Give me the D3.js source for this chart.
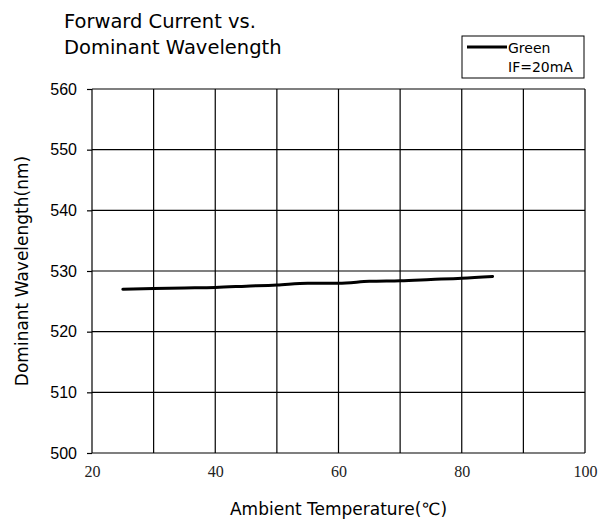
<!DOCTYPE html>
<html lang="en">
<head>
  <meta charset="UTF-8">
  <title>Forward Current vs. Dominant Wavelength</title>
  <style>
    body { margin: 0; background: #fff; }
    svg { display: block; }
  </style>
</head>
<body>
  <script src="https://cdn.jsdelivr.net/npm/d3@7"></script>
  <script>
// data
const temps = [25, 30, 35, 40, 45, 50, 55, 60, 65, 70, 75, 80, 85];
const wavelength = [527.0, 527.1, 527.2, 527.3, 527.5, 527.7, 528.0, 528.0, 528.3, 528.4, 528.6, 528.8, 529.1];
const xTicks = [20, 40, 60, 80, 100];
const yTicks = [500, 510, 520, 530, 540, 550, 560];

const width = 605, height = 522;
const margin = { top: 89, right: 20, bottom: 69, left: 92 };
const innerWidth = width - margin.left - margin.right;
const innerHeight = height - margin.top - margin.bottom;

const svg = d3.select('body').append('svg')
  .attr('width', width)
  .attr('height', height);

const g = svg.append('g')
  .attr('transform', `translate(${margin.left}, ${margin.top})`);

const xScale = d3.scaleLinear().domain([20, 100]).range([0, innerWidth]);
const yScale = d3.scaleLinear().domain([500, 560]).range([innerHeight, 0]);

// grid
g.append('g')
  .selectAll('line')
  .data(d3.range(20, 101, 10))
  .join('line')
  .attr('x1', d => xScale(d)).attr('x2', d => xScale(d))
  .attr('y1', 0).attr('y2', innerHeight)
  .attr('stroke', '#000').attr('stroke-width', 1.2);

g.append('g')
  .selectAll('line')
  .data(yTicks)
  .join('line')
  .attr('x1', 0).attr('x2', innerWidth)
  .attr('y1', d => yScale(d)).attr('y2', d => yScale(d))
  .attr('stroke', '#000').attr('stroke-width', 1.2);

// y axis
const yAxis = d3.axisLeft(yScale).tickValues(yTicks).tickSize(5).tickPadding(10);
g.append('g').call(yAxis)
  .call(a => a.select('.domain').remove())
  .call(a => a.selectAll('line').attr('stroke', '#000').attr('stroke-width', 1.2))
  .call(a => a.selectAll('text')
    .style('font-family', '"Liberation Sans", Arial, sans-serif')
    .style('font-size', '16px').attr('fill', '#000'));

// x axis
const xAxis = d3.axisBottom(xScale).tickValues(xTicks).tickSize(0).tickPadding(13);
g.append('g').attr('transform', `translate(0, ${innerHeight})`).call(xAxis)
  .call(a => a.select('.domain').remove())
  .call(a => a.selectAll('text')
    .style('font-family', '"Liberation Serif", "DejaVu Serif", serif')
    .style('font-size', '16px').attr('fill', '#222'));

// data line
const line = d3.line()
  .x((d, i) => xScale(temps[i]))
  .y(d => yScale(d))
  .curve(d3.curveMonotoneX);

g.append('path')
  .datum(wavelength)
  .attr('d', line)
  .attr('fill', 'none')
  .attr('stroke', '#000')
  .attr('stroke-width', 3)
  .attr('stroke-linecap', 'round');

// titles
const title = svg.append('text')
  .attr('font-family', 'DejaVu Sans, Verdana, sans-serif')
  .attr('font-size', 19.5).attr('fill', '#000');
title.append('tspan').attr('x', 64).attr('y', 28).text('Forward Current vs.');
title.append('tspan').attr('x', 64).attr('y', 54).text('Dominant Wavelength');

svg.append('text')
  .attr('transform', `translate(28, ${margin.top + innerHeight / 2}) rotate(-90)`)
  .attr('text-anchor', 'middle')
  .attr('font-family', 'DejaVu Sans, Verdana, sans-serif')
  .attr('font-size', 17).attr('fill', '#000')
  .text('Dominant Wavelength(nm)');

svg.append('text')
  .attr('x', margin.left + innerWidth / 2).attr('y', 515)
  .attr('text-anchor', 'middle')
  .attr('font-family', 'DejaVu Sans, Verdana, sans-serif')
  .attr('font-size', 17).attr('fill', '#000')
  .text('Ambient Temperature(℃)');

// legend
const lg = svg.append('g').attr('transform', 'translate(462, 36)');
lg.append('rect').attr('width', 122).attr('height', 42)
  .attr('fill', '#fff').attr('stroke', '#000').attr('stroke-width', 1);
lg.append('line').attr('x1', 5).attr('x2', 45).attr('y1', 11).attr('y2', 11)
  .attr('stroke', '#000').attr('stroke-width', 3);
lg.append('text').attr('x', 46).attr('y', 17)
  .attr('font-family', 'DejaVu Sans, Verdana, sans-serif')
  .attr('font-size', 14).text('Green');
lg.append('text').attr('x', 46).attr('y', 36)
  .attr('font-family', 'DejaVu Sans, Verdana, sans-serif')
  .attr('font-size', 14).text('IF=20mA');
  </script>
</body>
</html>
